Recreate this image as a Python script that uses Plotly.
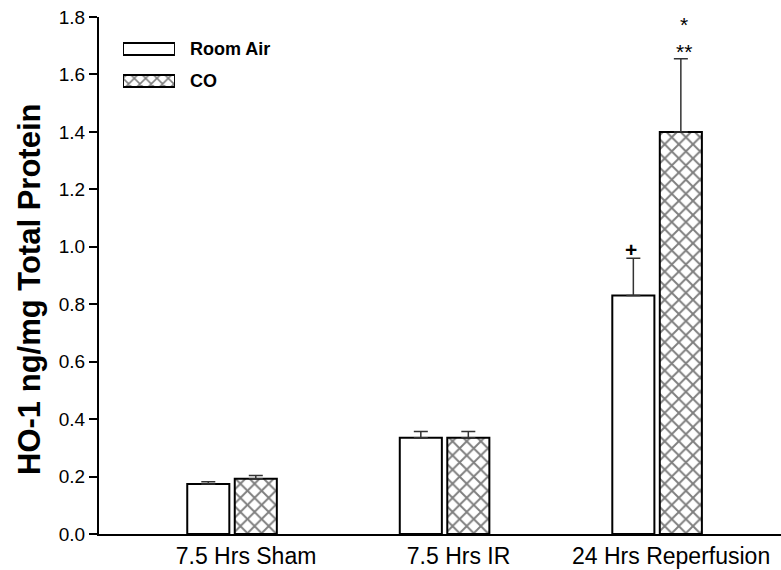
import plotly.graph_objects as go

categories = ["7.5 Hrs Sham", "7.5 Hrs IR", "24 Hrs Reperfusion"]
room_air = [0.174, 0.335, 0.83]
room_air_err = [0.008, 0.022, 0.13]
co = [0.192, 0.335, 1.40]
co_err = [0.012, 0.022, 0.255]
y_ticks = [0.0, 0.2, 0.4, 0.6, 0.8, 1.0, 1.2, 1.4, 1.6, 1.8]
legend_names = ["Room Air", "CO"]

FONT = "Liberation Sans, Arial, sans-serif"
PATTERN = dict(shape="x", fgcolor="black", bgcolor="white", size=10, solidity=0.35)

fig = go.Figure()
fig.add_trace(go.Bar(
    x=categories, y=room_air, name="Room Air", showlegend=False,
    marker=dict(color="white", line=dict(color="black", width=2)),
    error_y=dict(type="data", symmetric=False, array=room_air_err,
                 arrayminus=[0]*3, color="#333", thickness=1.5, width=7),
))
fig.add_trace(go.Bar(
    x=categories, y=co, name="CO", showlegend=False,
    marker=dict(color="white", line=dict(color="black", width=2), pattern=PATTERN),
    error_y=dict(type="data", symmetric=False, array=co_err,
                 arrayminus=[0]*3, color="#333", thickness=1.5, width=7),
))

# custom legend swatches on a small overlay axis
fig.add_trace(go.Bar(
    y=[legend_names[0]], x=[1], orientation="h", xaxis="x2", yaxis="y2",
    showlegend=False, width=0.375, hoverinfo="skip",
    marker=dict(color="white", line=dict(color="black", width=2)),
))
fig.add_trace(go.Bar(
    y=[legend_names[1]], x=[1], orientation="h", xaxis="x2", yaxis="y2",
    showlegend=False, width=0.375, hoverinfo="skip",
    marker=dict(color="white", line=dict(color="black", width=2),
                pattern=dict(shape="x", fgcolor="black", bgcolor="white", size=8, solidity=0.35)),
))

# significance marks
fig.add_annotation(x=categories[2], y=room_air[2] + room_air_err[2], xshift=-26,
                   yshift=9, text="<b>+</b>", showarrow=False,
                   font=dict(family=FONT, size=21, color="black"))
fig.add_annotation(x=categories[2], y=co[2] + co_err[2], xshift=27,
                   yshift=-6, yanchor="bottom", text="*<br>**", showarrow=False,
                   font=dict(family=FONT, size=21, color="black"))

for nm in legend_names:
    fig.add_annotation(xref="x2 domain", yref="y2", x=1.25, y=nm, text=f"<b>{nm}</b>",
                       showarrow=False, xanchor="left",
                       font=dict(family=FONT, size=18, color="black"))

# y-axis title
fig.add_annotation(xref="paper", yref="paper", x=0, y=0.472, xshift=-69,
                   text="<b>HO-1 ng/mg Total Protein</b>", textangle=-90,
                   showarrow=False, xanchor="center", yanchor="middle",
                   font=dict(family=FONT, size=31, color="black"))

fig.update_layout(
    width=781, height=570,
    margin=dict(l=99, r=0, t=17, b=36, autoexpand=False),
    paper_bgcolor="white", plot_bgcolor="white",
    barmode="group", bargap=0.553, bargroupgap=0.114,
    font=dict(family=FONT, color="black"),
    xaxis=dict(range=[-0.626, 2.583], showline=True, linecolor="black", linewidth=2,
               ticks="", ticklabelshift=14, automargin=False,
               tickfont=dict(size=23, family=FONT, color="black"),
               showgrid=False, zeroline=False),
    yaxis=dict(range=[0, 1.8], tickvals=y_ticks, ticktext=[f"{v:.1f}" for v in y_ticks],
               showline=True, linecolor="black", linewidth=2, ticks="outside",
               ticklen=8, tickwidth=1.5, tickcolor="black", automargin=False,
               tickfont=dict(size=19, family=FONT, color="black"),
               showgrid=False, zeroline=False),
    xaxis2=dict(domain=[0.0352, 0.1114], range=[0, 1], visible=False, anchor="y2"),
    yaxis2=dict(domain=[0.845, 0.969], categoryorder="array",
                categoryarray=legend_names[::-1], visible=False, anchor="x2"),
)

fig.write_html("out.html", config={"displayModeBar": False},
               post_script="document.body.style.margin='0';document.body.style.overflow='hidden';")
